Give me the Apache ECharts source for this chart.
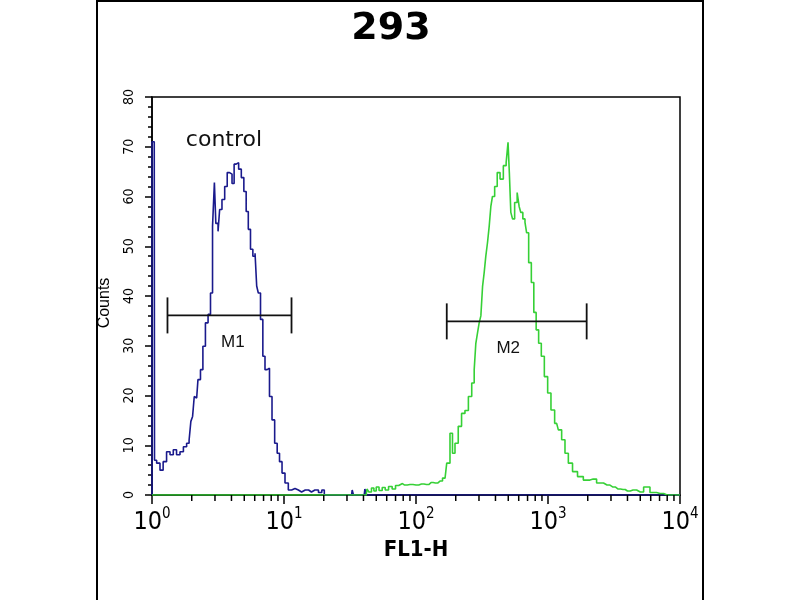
<!DOCTYPE html>
<html><head><meta charset="utf-8">
<script src="https://cdn.jsdelivr.net/npm/echarts@6/dist/echarts.min.js"></script>
<style>html,body{margin:0;padding:0;background:#fff}#c{width:800px;height:600px}</style>
</head><body><div id="c"></div>
<script>
const chartTitle = '293';
const xAxisName = 'FL1-H';
const yAxisName = 'Counts';
const controlLabel = 'control';
const xTickExponents = ['0', '1', '2', '3', '4'];
const minorDecades = [1, 10, 100, 1000];
const minorMultipliers = [2, 3, 4, 5, 6, 7, 8, 9];

// control (blue) histogram: FL1-H value / counts
const blueX = [1.0, 1.0, 1.04, 1.05, 1.12, 1.18, 1.25, 1.33, 1.41, 1.49, 1.58, 1.68, 1.78, 1.88, 1.94, 2.0, 2.06, 2.12, 2.18, 2.28, 2.38, 2.48, 2.6, 2.72, 2.83, 2.92, 3.02, 3.07, 3.13, 3.2, 3.31, 3.47, 3.64, 3.79, 3.95, 4.13, 4.25, 4.43, 4.64, 4.86, 5.07, 5.27, 5.46, 5.69, 5.93, 6.14, 6.28, 6.5, 6.78, 7.05, 7.31, 7.6, 7.93, 8.3, 8.7, 9.06, 9.44, 9.89, 10.47, 11.1, 11.75, 12.5, 13.2, 14.0, 15.0, 15.7, 16.6, 17.7, 18.8, 19.9, 20.5, 32.5, 33.2, 34, 40.5, 41.5, 42.5, 10000];
const blueY = [0, 71, 71, 7, 6.4, 5.0, 6.7, 8.7, 8.1, 9.1, 8.1, 8.7, 9.7, 10.4, 11, 14.8, 15.8, 19.8, 19.5, 23.2, 25.2, 29.9, 34.6, 36.3, 40.6, 54, 62.8, 54.6, 54.6, 53, 57.4, 59.4, 62, 64.8, 64.5, 62.6, 66.5, 66.8, 65.5, 63.8, 61, 57, 53.4, 49.4, 48, 48.6, 42, 40.6, 35.3, 27.9, 25.2, 25.5, 19.8, 15.1, 10.4, 8.4, 6.7, 4.4, 2.4, 1.0, 1.3, 1.0, 0.6, 1.0, 1.0, 0.6, 1.0, 1.0, 0.5, 1.0, 0, 0, 1.0, 0, 0, 1.2, 0, 0];

// sample (green) histogram
const greenX = [1, 42, 43, 45, 47, 49, 51, 54, 57, 60, 64, 68, 72, 76, 82, 90, 100, 110, 120, 130, 140, 152, 166, 176, 186, 192, 203, 215, 228, 242, 257, 272, 280, 288, 297, 305, 315, 324, 333, 343, 353, 364, 374, 385, 404, 421, 446, 472, 492, 504, 515, 531, 546, 572, 596, 613, 632, 658, 681, 697, 731, 765, 797, 830, 869, 911, 966, 1023, 1084, 1163, 1233, 1306, 1385, 1468, 1603, 1747, 1963, 2200, 2477, 2800, 3105, 3400, 3697, 4000, 4403, 5000, 5623, 6240, 7065, 8000, 10000];
const greenY = [0, 0, 1.2, 0.6, 1.4, 0.8, 1.6, 0.9, 1.5, 1.0, 1.7, 1.2, 1.9, 2.3, 2.0, 2.1, 2.0, 2.2, 2.1, 2.5, 2.4, 2.8, 3.4, 6.4, 12.4, 8.4, 10.4, 13.8, 16.4, 17, 19.8, 22.5, 25.2, 30.5, 32.6, 34.6, 36, 42, 44.7, 48, 50.7, 54, 58, 60, 62, 64.8, 63.5, 66.2, 66.8, 70.9, 64.8, 56.8, 55.5, 58.8, 60.8, 58, 56.8, 55.5, 54.8, 52.7, 46.7, 42.7, 36.7, 33.2, 30.5, 27.9, 23.8, 20.5, 17.1, 14.4, 13.1, 11.1, 8.4, 6.4, 4.7, 3.7, 3.0, 3.2, 2.4, 2.0, 1.6, 1.2, 1.1, 0.8, 1.0, 0.6, 1.6, 0.5, 0.3, 0, 0];

// gate markers
const markerNames = ['M1', 'M2'];
const markerStart = [1.31, 171];
const markerEnd = [11.4, 1963];
const markerLevel = [36.1, 34.9];
const markerLabelX = [4.1, 500];

const zip = (a, b) => a.map((v, i) => [v, b[i]]);
const minorTicks = [];
minorDecades.forEach(d => minorMultipliers.forEach(m => minorTicks.push([d * m, 0])));
const markerData = markerNames.map((n, i) => [markerStart[i], markerEnd[i], markerLevel[i], markerLabelX[i]]);

const narrow = '"Liberation Sans Narrow", "DejaVu Sans Condensed", "Liberation Sans", sans-serif';
const cond = '"DejaVu Sans Condensed", "Liberation Sans", sans-serif';
const chart = echarts.init(document.getElementById('c'), null, {renderer: 'canvas'});
chart.setOption({
  animation: false,
  backgroundColor: '#fff',
  grid: {left: 152, top: 97, width: 528, height: 398, show: true, borderColor: '#000', borderWidth: 1.5, backgroundColor: 'transparent'},
  xAxis: {
    type: 'log', logBase: 10, min: 1, max: 10000, splitNumber: 4,
    name: xAxisName, nameLocation: 'middle', nameGap: 44,
    nameTextStyle: {fontFamily: narrow, fontWeight: 'bold', fontSize: 22, color: '#000'},
    axisLine: {show: true, lineStyle: {color: '#000', width: 1.5}},
    axisTick: {show: true, inside: false, length: 9, lineStyle: {color: '#000', width: 1.5}},
    splitLine: {show: false},
    axisLabel: {
      margin: 12,
      formatter: v => '{b|10}{s|' + xTickExponents[Math.round(Math.log10(v))] + '}',
      rich: {
        b: {fontFamily: narrow, fontSize: 25, lineHeight: 30, color: '#000', verticalAlign: 'middle'},
        s: {fontFamily: narrow, fontSize: 15, lineHeight: 11, color: '#000', verticalAlign: 'top'}
      }
    }
  },
  yAxis: {
    type: 'value', min: 0, max: 80, interval: 10,
    name: yAxisName, nameLocation: 'middle', nameRotate: 90, nameGap: 39,
    nameTextStyle: {fontFamily: '"Liberation Sans", Arial, sans-serif', fontSize: 16, color: '#000', padding: [0, 14, 0, 0]},
    axisLine: {show: true, lineStyle: {color: '#000', width: 1.5}},
    axisTick: {show: true, inside: false, length: 7, lineStyle: {color: '#000', width: 1.5}},
    minorTick: {show: true, splitNumber: 5, length: 4, lineStyle: {color: '#000', width: 1.5}},
    splitLine: {show: false},
    axisLabel: {rotate: 90, margin: 16, fontFamily: cond, fontSize: 14, color: '#000'}
  },
  graphic: [
    {type: 'rect', shape: {x: 97, y: 1, width: 606, height: 640}, style: {fill: 'none', stroke: '#000', lineWidth: 2}, silent: true, z: 100},
    {type: 'text', x: 391, y: 29, style: {text: chartTitle, align: 'center', verticalAlign: 'middle', font: 'bold 38px "DejaVu Sans", sans-serif', fill: '#000'}},
    {type: 'text', x: 224, y: 140, style: {text: controlLabel, align: 'center', verticalAlign: 'middle', font: '22px "DejaVu Sans", sans-serif', fill: '#111'}}
  ],
  series: [
    {
      name: 'control', type: 'line', data: zip(blueX, blueY), step: 'middle', showSymbol: false, symbol: 'none',
      lineStyle: {color: '#1a1a8c', width: 1.6}, z: 3
    },
    {
      name: 'sample', type: 'line', data: zip(greenX, greenY), step: 'middle', showSymbol: false, symbol: 'none',
      lineStyle: {color: '#36d036', width: 1.6}, z: 4
    },
    {
      type: 'custom', data: minorTicks, clip: false, silent: true, z: 10,
      renderItem: (params, api) => {
        const p = api.coord([api.value(0), 0]);
        return {type: 'line', shape: {x1: p[0], y1: p[1], x2: p[0], y2: p[1] + 6}, style: {stroke: '#000', lineWidth: 1.5}};
      }
    },
    {
      type: 'custom', data: markerData, clip: false, silent: true, z: 11,
      renderItem: (params, api) => {
        const a = api.coord([api.value(0), api.value(2)]);
        const b = api.coord([api.value(1), api.value(2)]);
        const c = api.coord([api.value(3), api.value(2)]);
        const st = {stroke: '#111', lineWidth: 1.8};
        return {type: 'group', children: [
          {type: 'line', shape: {x1: a[0], y1: a[1], x2: b[0], y2: b[1]}, style: st},
          {type: 'line', shape: {x1: a[0], y1: a[1] - 18, x2: a[0], y2: a[1] + 18}, style: st},
          {type: 'line', shape: {x1: b[0], y1: b[1] - 18, x2: b[0], y2: b[1] + 18}, style: st},
          {type: 'text', x: c[0], y: c[1] + 27, style: {text: markerNames[params.dataIndex], align: 'center', verticalAlign: 'middle', font: '17px "Liberation Sans", Arial, sans-serif', fill: '#111'}}
        ]};
      }
    }
  ]
});
</script></body></html>
